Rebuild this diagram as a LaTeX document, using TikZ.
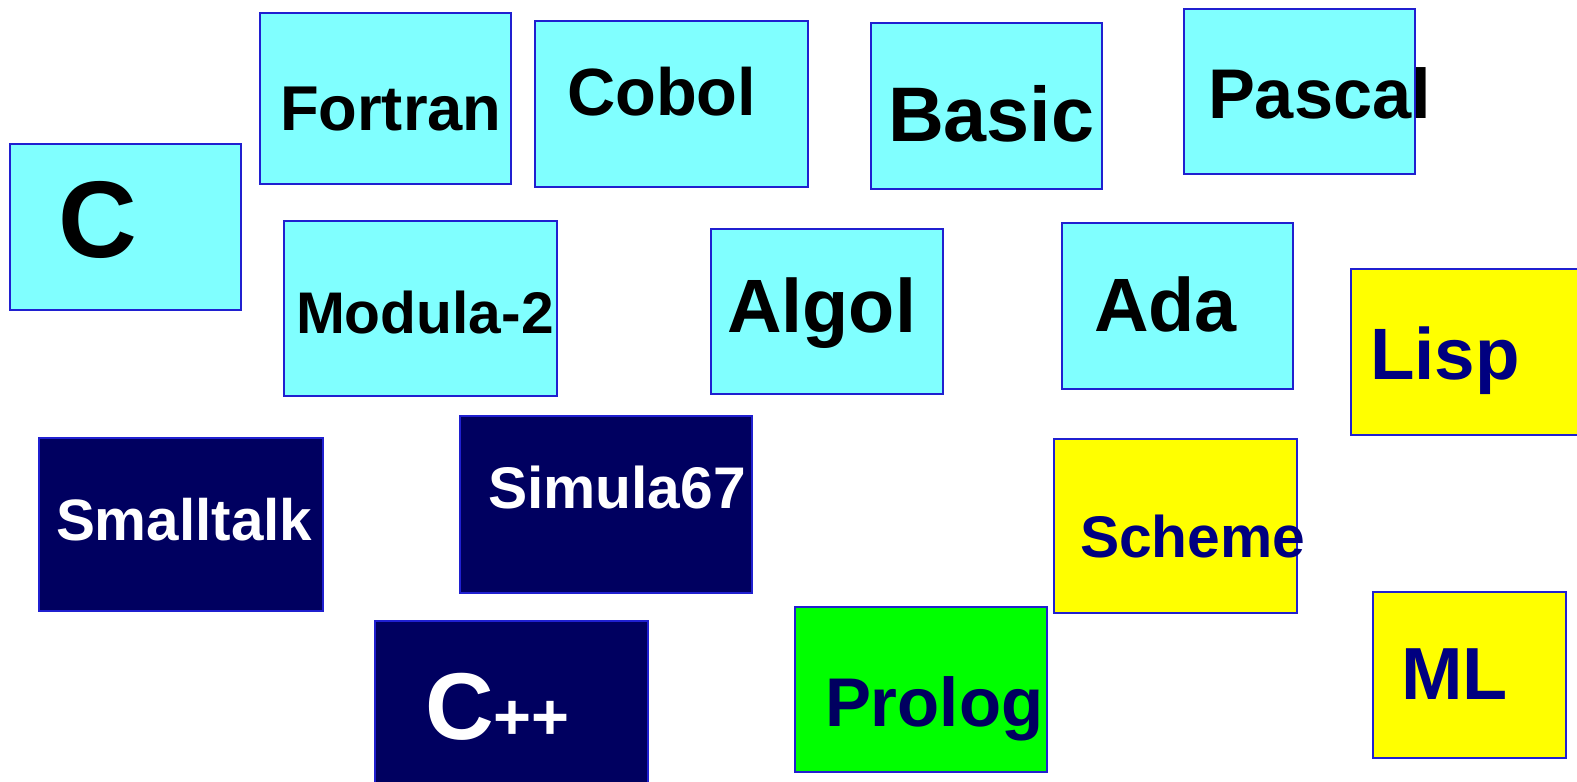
\documentclass[tikz,border=0pt]{standalone}
\usepackage{fontspec}
\setmainfont{Liberation Sans}
\definecolor{boxcyan}{RGB}{128,255,255}
\definecolor{boxline}{RGB}{32,32,208}
\definecolor{boxnavy}{RGB}{0,0,96}
\definecolor{textnavy}{RGB}{0,0,128}
\definecolor{boxyellow}{RGB}{255,255,0}
\definecolor{boxgreen}{RGB}{0,255,0}
\begin{document}
\begin{tikzpicture}[x=0.01cm,y=-0.01cm,
    lang/.style={rectangle,draw=boxline,line width=0.6pt,inner sep=0pt,outer sep=0pt},
    lbl/.style={anchor=base west,inner sep=0pt,outer sep=0pt},
    sz/.style={font=\fontsize{#1}{#1}\selectfont\bfseries}]
      \useasboundingbox (0,0) rectangle (1577,781);
      % imperative languages
      \node[lang,fill=boxcyan,minimum width=2.31cm,minimum height=1.66cm] (cbox) at (125.5,227) {};
      \node[lang,fill=boxcyan,minimum width=2.51cm,minimum height=1.71cm] (fortranbox) at (385.5,98.5) {};
      \node[lang,fill=boxcyan,minimum width=2.73cm,minimum height=1.66cm] (cobolbox) at (671.5,104) {};
      \node[lang,fill=boxcyan,minimum width=2.31cm,minimum height=1.66cm] (basicbox) at (986.5,106) {};
      \node[lang,fill=boxcyan,minimum width=2.31cm,minimum height=1.65cm] (pascalbox) at (1299.5,91.5) {};
      \node[lang,fill=boxcyan,minimum width=2.73cm,minimum height=1.75cm] (modulabox) at (420.5,308.5) {};
      \node[lang,fill=boxcyan,minimum width=2.32cm,minimum height=1.65cm] (algolbox) at (827,311.5) {};
      \node[lang,fill=boxcyan,minimum width=2.31cm,minimum height=1.66cm] (adabox) at (1177.5,306) {};
      \node[lbl,sz=31] (c) at (58,257) {C};
      \node[lbl,sz=18] (fortran) at (280,130) {Fortran};
      \node[lbl,sz=19] (cobol) at (567,115) {Cobol};
      \node[lbl,sz=22] (basic) at (888,141) {Basic};
      \node[lbl,sz=20] (pascal) at (1208,118) {Pascal};
      \node[lbl,sz=16.7] (modula) at (296,333) {Modula-2};
      \node[lbl,sz=21.5] (algol) at (727,332) {Algol};
      \node[lbl,sz=21.5] (ada) at (1094,331) {Ada};
      % object oriented
      \node[lang,fill=boxnavy,minimum width=2.84cm,minimum height=1.73cm] (smalltalkbox) at (181,524.5) {};
      \node[lang,fill=boxnavy,minimum width=2.92cm,minimum height=1.77cm] (simulabox) at (606,504.5) {};
      \node[lang,fill=boxnavy,minimum width=2.73cm,minimum height=1.69cm] (cppbox) at (511.5,705.5) {};
      \node[lbl,sz=16.6,text=white] (smalltalk) at (56,540) {Smalltalk};
      \node[lbl,sz=16.7,text=white] (simula) at (488,508) {Simula67};
      \node[lbl,text=white] (cpp) at (425,739) {{\fontsize{27}{28}\selectfont\bfseries C}{\fontsize{18.5}{20}\selectfont\bfseries ++}};
      % functional and logic
      \node[lang,fill=boxyellow,minimum width=2.39cm,minimum height=1.66cm] (lispbox) at (1470.5,352) {};
      \node[lang,fill=boxyellow,minimum width=2.43cm,minimum height=1.74cm] (schemebox) at (1175.5,526) {};
      \node[lang,fill=boxyellow,minimum width=1.93cm,minimum height=1.66cm] (mlbox) at (1469.5,675) {};
      \node[lang,fill=boxgreen,minimum width=2.52cm,minimum height=1.65cm] (prologbox) at (921,689.5) {};
      \node[lbl,sz=20.7,text=textnavy] (lisp) at (1370,379) {Lisp};
      \node[lbl,sz=16.7,text=textnavy] (scheme) at (1080,557) {Scheme};
      \node[lbl,sz=21,text=textnavy] (ml) at (1401,699) {ML};
      \node[lbl,sz=19.6,text=boxnavy] (prolog) at (825,726) {Prolog};
    \end{tikzpicture}
\end{document}
